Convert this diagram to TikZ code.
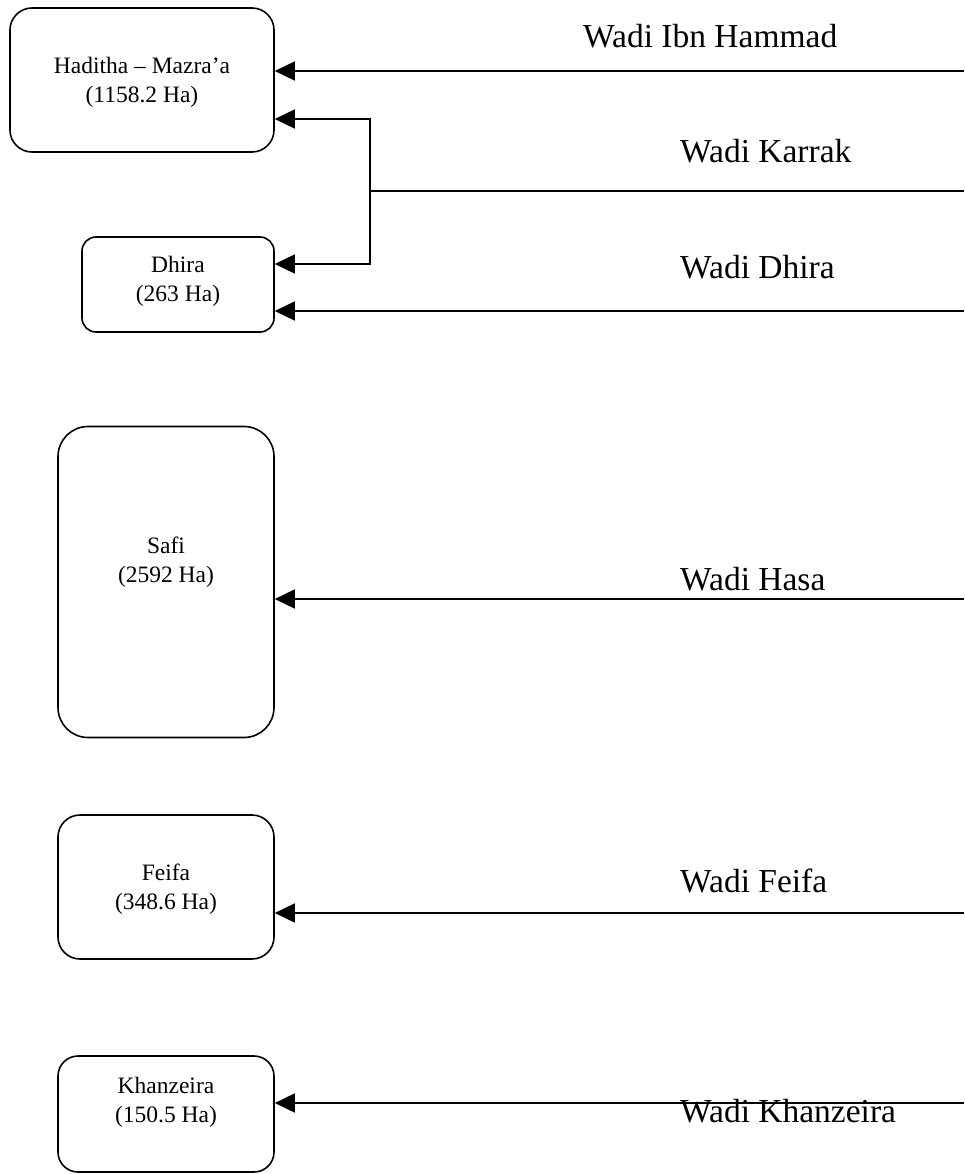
\documentclass[tikz,border=0pt]{standalone}
\usepackage{fontspec}
\setmainfont{Liberation Serif}
\usetikzlibrary{arrows.meta}

\tikzset{
  area/.style={draw, line width=1.6pt, rounded corners=#1, inner sep=0pt},
  areatext/.style={anchor=base, align=center, inner sep=0pt,
    font=\fontsize{23.5}{29}\selectfont},
  wadi/.style={anchor=base west, inner sep=0pt,
    font=\fontsize{33.5}{38}\selectfont},
  flow/.style={line width=1.6pt, -{Triangle[length=20pt,width=19pt]}},
  feed/.style={line width=1.6pt},
}

\begin{document}
\begin{tikzpicture}[x=1pt, y=-1pt]
  % canvas
  \useasboundingbox (0,0) rectangle (964,1174);

  % irrigation areas (text nodes anchored at the baseline of their last line)
  \node[area=22pt, minimum width=264pt, minimum height=144pt] (had) at (142,80) {};
  \node[areatext] (hadT) at (142,103) {Haditha – Mazra’a\\(1158.2 Ha)};

  \node[area=14pt, minimum width=192pt, minimum height=95pt] (dhi) at (178,284.5) {};
  \node[areatext] (dhiT) at (178,301) {Dhira\\(263 Ha)};

  \node[area=30pt, minimum width=216pt, minimum height=311pt] (saf) at (166,582) {};
  \node[areatext] (safT) at (166,582) {Safi\\(2592 Ha)};

  \node[area=22pt, minimum width=216pt, minimum height=144pt] (fei) at (166,887) {};
  \node[areatext] (feiT) at (166,909) {Feifa\\(348.6 Ha)};

  \node[area=20pt, minimum width=216pt, minimum height=116pt] (kha) at (166,1114) {};
  \node[areatext] (khaT) at (166,1122) {Khanzeira\\(150.5 Ha)};

  % wadi sources at the right edge
  \coordinate (sIbn) at (964,71);
  \coordinate (sKar) at (964,191);
  \coordinate (sDhi) at (964,311);
  \coordinate (sHas) at (964,599);
  \coordinate (sFei) at (964,913);
  \coordinate (sKha) at (964,1103);

  % Wadi Karrak split
  \coordinate (kJ) at (370,191);
  \coordinate (kUp) at (370,119);
  \coordinate (kDn) at (370,264);

  % flows
  \draw[flow] (sIbn) -- (sIbn -| had.east);
  \draw[feed] (sKar) -- (kJ);
  \draw[flow] (kJ) -- (kUp) -- (kUp -| had.east);
  \draw[flow] (kJ) -- (kDn) -- (kDn -| dhi.east);
  \draw[flow] (sDhi) -- (sDhi -| dhi.east);
  \draw[flow] (sHas) -- (sHas -| saf.east);
  \draw[flow] (sFei) -- (sFei -| fei.east);
  \draw[flow] (sKha) -- (sKha -| kha.east);

  % wadi names
  \node[wadi] (lIbn) at (583,48) {Wadi Ibn Hammad};
  \node[wadi] (lKar) at (680,163) {Wadi Karrak};
  \node[wadi] (lDhi) at (680,278) {Wadi Dhira};
  \node[wadi] (lHas) at (680,590) {Wadi Hasa};
  \node[wadi] (lFei) at (680,892) {Wadi Feifa};
  \node[wadi] (lKha) at (680,1122) {Wadi Khanzeira};
\end{tikzpicture}
\end{document}
